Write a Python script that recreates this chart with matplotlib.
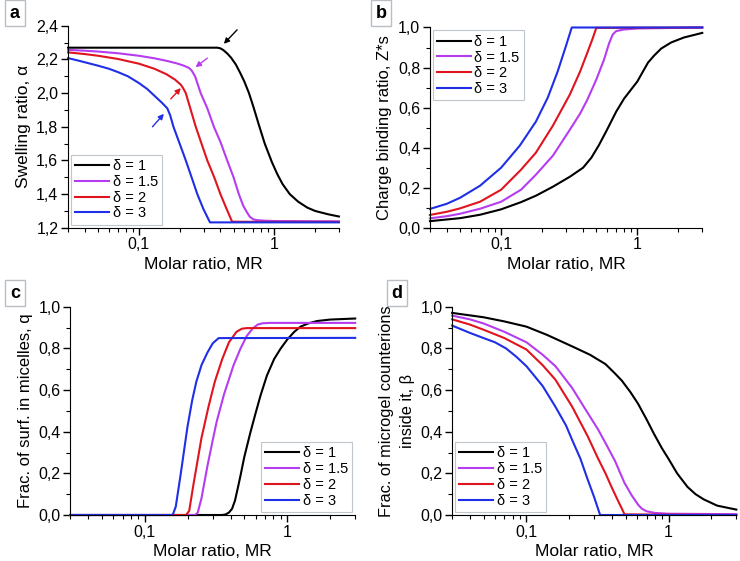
import matplotlib
matplotlib.use("Agg")
import matplotlib.pyplot as plt
from matplotlib.ticker import FixedLocator, FuncFormatter, MultipleLocator, LogLocator, NullFormatter

plt.rcParams['font.family'] = ['Liberation Sans', 'DejaVu Sans']

labels = ["δ = 1", "δ = 1.5", "δ = 2", "δ = 3"]
colors = ["#000000", "#b63cf0", "#e0141e", "#1f2fe6"]

# Panel a: swelling ratio
a_x1 = [0.03, 0.1, 0.3, 0.38, 0.40, 0.42, 0.45, 0.48, 0.52, 0.56, 0.6, 0.65, 0.7, 0.77, 0.85, 0.96, 1.05, 1.15, 1.3, 1.5, 1.75, 2.0, 2.5, 3.0]
a_y1 = [2.27, 2.27, 2.27, 2.27, 2.266, 2.256, 2.235, 2.21, 2.17, 2.12, 2.07, 2.0, 1.92, 1.81, 1.70, 1.59, 1.52, 1.46, 1.40, 1.355, 1.32, 1.30, 1.28, 1.267]
a_x2 = [0.03, 0.04, 0.05, 0.07, 0.1, 0.13, 0.16, 0.19, 0.215, 0.234, 0.245, 0.26, 0.286, 0.32, 0.358, 0.40, 0.449, 0.5, 0.547, 0.59, 0.63, 0.66, 0.7, 0.75, 0.85, 1.0, 3.0]
a_y2 = [2.257, 2.252, 2.247, 2.237, 2.222, 2.207, 2.192, 2.177, 2.163, 2.15, 2.135, 2.10, 2.0, 1.91, 1.8, 1.71, 1.6, 1.5, 1.4, 1.33, 1.29, 1.265, 1.25, 1.245, 1.242, 1.24, 1.238]
a_x3 = [0.03, 0.04, 0.05, 0.07, 0.1, 0.13, 0.16, 0.185, 0.204, 0.212, 0.222, 0.263, 0.29, 0.32, 0.36, 0.40, 0.44, 0.488, 1.0, 3.0]
a_y3 = [2.242, 2.232, 2.222, 2.203, 2.175, 2.145, 2.112, 2.08, 2.05, 2.03, 2.0, 1.8, 1.7, 1.6, 1.5, 1.4, 1.32, 1.236, 1.235, 1.235]
a_x4 = [0.03, 0.035, 0.04, 0.05, 0.06, 0.07, 0.083, 0.1, 0.115, 0.13, 0.147, 0.162, 0.17, 0.18, 0.2, 0.222, 0.245, 0.27, 0.3, 0.335, 1.0, 3.0]
a_y4 = [2.208, 2.195, 2.183, 2.163, 2.145, 2.125, 2.10, 2.06, 2.025, 1.985, 1.945, 1.91, 1.87, 1.8, 1.7, 1.6, 1.5, 1.4, 1.31, 1.232, 1.232, 1.232]

# Panel b: charge binding ratio
b_x1 = [0.03, 0.05, 0.07, 0.1, 0.14, 0.18, 0.24, 0.32, 0.4, 0.46, 0.52, 0.6, 0.7, 0.8, 0.9, 1.0, 1.1, 1.2, 1.33, 1.5, 1.77, 2.2, 3.0]
b_y1 = [0.033, 0.048, 0.065, 0.092, 0.128, 0.16, 0.205, 0.255, 0.30, 0.35, 0.41, 0.49, 0.58, 0.645, 0.69, 0.73, 0.78, 0.825, 0.86, 0.895, 0.925, 0.95, 0.973]
b_x2 = [0.03, 0.04, 0.05, 0.07, 0.1, 0.14, 0.18, 0.24, 0.32, 0.38, 0.43, 0.5, 0.57, 0.62, 0.66, 0.7, 0.8, 1.0, 3.0]
b_y2 = [0.047, 0.058, 0.07, 0.095, 0.13, 0.19, 0.265, 0.36, 0.49, 0.57, 0.64, 0.74, 0.84, 0.92, 0.965, 0.982, 0.99, 0.995, 1.0]
b_x3 = [0.03, 0.04, 0.05, 0.07, 0.1, 0.14, 0.18, 0.24, 0.32, 0.38, 0.43, 0.47, 0.5, 3.0]
b_y3 = [0.064, 0.08, 0.097, 0.13, 0.19, 0.29, 0.375, 0.51, 0.666, 0.78, 0.875, 0.945, 0.998, 1.0]
b_x4 = [0.03, 0.04, 0.05, 0.07, 0.1, 0.137, 0.18, 0.22, 0.26, 0.30, 0.33, 3.0]
b_y4 = [0.094, 0.12, 0.15, 0.21, 0.30, 0.41, 0.53, 0.65, 0.78, 0.91, 1.0, 1.0]

# Panel c: fraction of surfactant in micelles
c_x1 = [0.03, 0.35, 0.37, 0.39, 0.41, 0.43, 0.45, 0.47, 0.5, 0.55, 0.6, 0.65, 0.72, 0.81, 0.9, 1.0, 1.12, 1.24, 1.4, 1.62, 2.0, 3.0]
c_y1 = [0.0, 0.0, 0.003, 0.012, 0.03, 0.07, 0.13, 0.19, 0.28, 0.394, 0.49, 0.575, 0.67, 0.75, 0.80, 0.843, 0.88, 0.905, 0.92, 0.932, 0.939, 0.944]
c_x2 = [0.03, 0.225, 0.235, 0.25, 0.275, 0.3, 0.32, 0.36, 0.42, 0.47, 0.52, 0.57, 0.62, 0.67, 0.75, 3.0]
c_y2 = [0.0, 0.0, 0.01, 0.08, 0.234, 0.36, 0.45, 0.58, 0.72, 0.80, 0.86, 0.895, 0.915, 0.921, 0.923, 0.923]
c_x3 = [0.03, 0.195, 0.205, 0.22, 0.25, 0.28, 0.31, 0.35, 0.39, 0.44, 0.48, 0.52, 3.0]
c_y3 = [0.0, 0.0, 0.02, 0.15, 0.37, 0.52, 0.64, 0.75, 0.83, 0.88, 0.895, 0.898, 0.898]
c_x4 = [0.03, 0.157, 0.165, 0.179, 0.199, 0.215, 0.23, 0.25, 0.275, 0.3, 0.33, 3.0]
c_y4 = [0.0, 0.0, 0.04, 0.2, 0.42, 0.55, 0.64, 0.72, 0.78, 0.825, 0.85, 0.851]

# Panel d: fraction of microgel counterions inside it
d_x1 = [0.03, 0.05, 0.07, 0.1, 0.14, 0.21, 0.28, 0.36, 0.42, 0.47, 0.54, 0.61, 0.7, 0.79, 0.9, 1.0, 1.15, 1.36, 1.55, 1.77, 2.2, 3.0]
d_y1 = [0.971, 0.95, 0.93, 0.905, 0.865, 0.81, 0.77, 0.725, 0.68, 0.645, 0.59, 0.535, 0.46, 0.39, 0.32, 0.27, 0.2, 0.135, 0.1, 0.075, 0.045, 0.026]
d_x2 = [0.03, 0.04, 0.05, 0.07, 0.1, 0.13, 0.16, 0.21, 0.27, 0.32, 0.36, 0.42, 0.49, 0.55, 0.61, 0.65, 0.7, 0.8, 1.0, 3.0]
d_y2 = [0.958, 0.94, 0.92, 0.88, 0.83, 0.77, 0.715, 0.61, 0.49, 0.41, 0.346, 0.26, 0.154, 0.095, 0.05, 0.03, 0.018, 0.01, 0.006, 0.004]
d_x3 = [0.03, 0.04, 0.05, 0.07, 0.1, 0.13, 0.16, 0.21, 0.27, 0.32, 0.36, 0.4, 0.44, 0.47, 0.49, 3.0]
d_y3 = [0.94, 0.915, 0.89, 0.85, 0.795, 0.72, 0.65, 0.52, 0.378, 0.27, 0.2, 0.13, 0.07, 0.03, 0.003, 0.0]
d_x4 = [0.03, 0.04, 0.05, 0.06, 0.072, 0.085, 0.1, 0.13, 0.16, 0.19, 0.21, 0.24, 0.27, 0.3, 0.33, 3.0]
d_y4 = [0.91, 0.875, 0.85, 0.83, 0.80, 0.76, 0.715, 0.62, 0.52, 0.43, 0.36, 0.27, 0.17, 0.085, 0.0, 0.0]

fig = plt.figure(figsize=(7.4, 5.61), dpi=100)

def comma(v, pos):
    if v >= 1:
        return "%g" % v
    return ("%g" % v).replace(".", ",")

def ycomma(v, pos):
    return ("%.1f" % v).replace(".", ",")

def setup(ax, ylim, ymaj, ymin_, ylabel, lab_size=12):
    ax.set_xscale('log')
    ax.set_xlim(0.03, 3.0)
    ax.set_ylim(*ylim)
    ax.xaxis.set_major_locator(FixedLocator([0.1, 1.0]))
    ax.xaxis.set_major_formatter(FuncFormatter(comma))
    ax.xaxis.set_minor_locator(LogLocator(base=10, subs=range(2, 10), numticks=20))
    ax.xaxis.set_minor_formatter(NullFormatter())
    ax.yaxis.set_major_locator(MultipleLocator(ymaj))
    ax.yaxis.set_minor_locator(MultipleLocator(ymin_))
    ax.yaxis.set_major_formatter(FuncFormatter(ycomma))
    for s in ['top', 'right']:
        ax.spines[s].set_visible(False)
    ax.tick_params(which='major', direction='out', length=5, width=1, labelsize=11.5, pad=2)
    ax.tick_params(which='minor', direction='out', length=3, width=0.8)
    ax.set_xlabel("Molar ratio, MR", fontsize=12.5, labelpad=3)
    ax.set_ylabel(ylabel, fontsize=lab_size, linespacing=1.45)
    return ax

axes_pos = {
    'a': [0.092, 0.594, 0.366, 0.360],
    'b': [0.581, 0.594, 0.368, 0.357],
    'c': [0.095, 0.082, 0.385, 0.371],
    'd': [0.611, 0.082, 0.384, 0.371],
}

ax_a = fig.add_axes(axes_pos['a'])
ax_b = fig.add_axes(axes_pos['b'])
ax_c = fig.add_axes(axes_pos['c'])
ax_d = fig.add_axes(axes_pos['d'])

data = {
    ax_a: [(a_x1, a_y1), (a_x2, a_y2), (a_x3, a_y3), (a_x4, a_y4)],
    ax_b: [(b_x1, b_y1), (b_x2, b_y2), (b_x3, b_y3), (b_x4, b_y4)],
    ax_c: [(c_x1, c_y1), (c_x2, c_y2), (c_x3, c_y3), (c_x4, c_y4)],
    ax_d: [(d_x1, d_y1), (d_x2, d_y2), (d_x3, d_y3), (d_x4, d_y4)],
}
for ax, series in data.items():
    for (xs, ys), c, lab in zip(series, colors, labels):
        ax.plot(xs, ys, color=c, lw=1.5, label=lab, clip_on=False, solid_joinstyle='round')

setup(ax_a, (1.2, 2.4), 0.2, 0.1, "Swelling ratio, α", 12.5)
setup(ax_b, (0.0, 1.0), 0.2, 0.1, "Charge binding ratio, Z*s", 12)
setup(ax_c, (0.0, 1.0), 0.2, 0.1, "Frac. of surf. in micelles, q", 12)
setup(ax_d, (0.0, 1.0), 0.2, 0.1, "Frac. of microgel counterions\ninside it, β", 11.8)

leg_kw = dict(fontsize=10.5, frameon=True, fancybox=False, edgecolor='#b0b8c0',
              handlelength=2.3, labelspacing=0.12, borderpad=0.3, handletextpad=0.25,
              borderaxespad=0.2)
ax_a.legend(loc='lower left', **leg_kw)
ax_b.legend(loc='upper left', **leg_kw)
ax_c.legend(loc='lower right', **leg_kw)
ax_d.legend(loc='lower left', **leg_kw)
for ax in (ax_a, ax_b, ax_c, ax_d):
    ax.get_legend().get_frame().set_linewidth(0.8)

# arrows in panel a
arrow_tail_x = [0.531, 0.32, 0.172, 0.126]
arrow_tail_y = [2.376, 2.208, 1.966, 1.80]
arrow_head_x = [0.424, 0.262, 0.204, 0.153]
arrow_head_y = [2.293, 2.154, 2.03, 1.877]
for tx, ty, hx, hy, c in zip(arrow_tail_x, arrow_tail_y, arrow_head_x, arrow_head_y, colors):
    ax_a.annotate("", xy=(hx, hy), xytext=(tx, ty),
                  arrowprops=dict(arrowstyle='-|>', color=c, lw=1.0, mutation_scale=8,
                                  shrinkA=0, shrinkB=0))

# panel letters
letter_pos = {'a': (15, 13), 'b': (381, 13), 'c': (15, 293), 'd': (397, 293)}
for k, (px, py) in letter_pos.items():
    fig.text(px / 740, 1 - py / 561, k, fontsize=13, fontweight='bold', ha='center', va='center',
             bbox=dict(boxstyle='square,pad=0.25', facecolor='white', edgecolor='#b8bec4', lw=1.0))

fig.savefig("out.png", dpi=100)
